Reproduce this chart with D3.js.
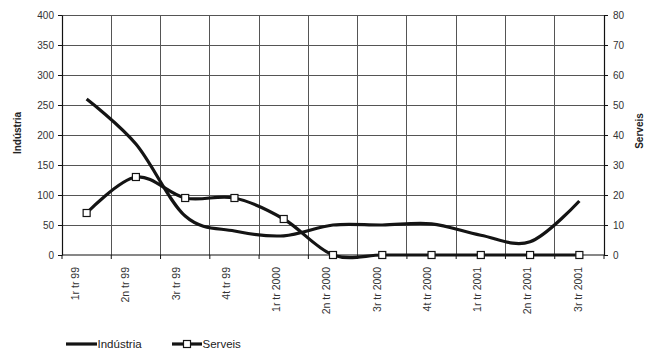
<!DOCTYPE html>
<html><head><meta charset="utf-8">
<script src="https://cdn.jsdelivr.net/npm/d3@7"></script>
<style>
html,body{margin:0;padding:0;background:#fff;}
svg{display:block;font-family:"Liberation Sans",Arial,sans-serif;}
</style></head>
<body><svg id="c" width="649" height="351"></svg>
<script>
const categories = ["1r tr 99","2n tr 99","3r tr 99","4t tr 99","1r tr 2000","2n tr 2000","3r tr 2000","4t tr 2000","1r tr 2001","2n tr 2001","3r tr 2001"];
const industria = [260, 185, 65, 40, 32, 50, 50, 52, 33, 22, 90];
const serveis = [14, 26, 19, 19, 12, 0, 0, 0, 0, 0, 0];
const leftTicks = [0,50,100,150,200,250,300,350,400];
const rightTicks = [0,10,20,30,40,50,60,70,80];

const L=62, R=604, T=15, B=255;
const svg = d3.select("#c");
const x = d3.scaleBand().domain(categories).range([L,R]).padding(0);
const xLab = d3.scalePoint().domain(categories).range([75.5,578]);
const yL = d3.scaleLinear().domain([0,400]).range([B,T]);
const yR = d3.scaleLinear().domain([0,80]).range([B,T]);
const grid = "#555", ink = "#141414", txt = "#333";

// horizontal gridlines
svg.append("g").selectAll("line").data(leftTicks.filter(d=>d>0)).join("line")
  .attr("x1",L).attr("x2",R).attr("y1",d=>yL(d)).attr("y2",d=>yL(d))
  .attr("stroke",grid).attr("stroke-width",1).attr("shape-rendering","crispEdges");
// vertical gridlines at category boundaries
svg.append("g").selectAll("line").data(categories.slice(1)).join("line")
  .attr("x1",d=>x(d)).attr("x2",d=>x(d)).attr("y1",T).attr("y2",B)
  .attr("stroke",grid).attr("stroke-width",1).attr("shape-rendering","crispEdges");

// left axis
const gl = svg.append("g").attr("transform",`translate(${L},0)`)
  .call(d3.axisLeft(yL).tickValues(leftTicks).tickSize(4).tickPadding(4).tickSizeOuter(0));
// right axis
const gr = svg.append("g").attr("transform",`translate(${R},0)`)
  .call(d3.axisRight(yR).tickValues(rightTicks).tickSize(4).tickPadding(5).tickSizeOuter(0));
[gl,gr].forEach(g=>{
  g.select(".domain").attr("stroke","#111").attr("stroke-width",1.2);
  g.selectAll(".tick line").attr("stroke","#111");
  g.selectAll(".tick text").attr("font-size","10px").attr("fill",txt).attr("font-family","Liberation Sans, Arial, sans-serif");
});

// bottom axis line + ticks at boundaries
svg.append("line").attr("x1",L).attr("x2",R).attr("y1",B).attr("y2",B)
  .attr("stroke","#111").attr("stroke-width",1.2);
const bounds = categories.map(c=>x(c)).concat([x.range()[1]]);
svg.append("g").selectAll("line").data(bounds).join("line")
  .attr("x1",d=>d).attr("x2",d=>d).attr("y1",B).attr("y2",B+4)
  .attr("stroke","#111").attr("stroke-width",1);
// x labels
svg.append("g").selectAll("text").data(categories).join("text")
  .attr("transform",d=>`translate(${xLab(d)},267) rotate(-90)`)
  .attr("text-anchor","end").attr("dy","0.35em")
  .attr("font-size","10.5px").attr("fill",txt).text(d=>d);

// axis titles
svg.append("text").attr("transform","translate(17,133) rotate(-90)")
  .attr("text-anchor","middle").attr("dy","0.35em").attr("font-size","10px")
  .attr("font-weight","bold").attr("fill","#222").text("Indústria");
svg.append("text").attr("transform","translate(639,131) rotate(-90)")
  .attr("text-anchor","middle").attr("dy","0.35em").attr("font-size","10px")
  .attr("font-weight","bold").attr("fill","#222").text("Serveis");

const cx = d => x(d)+x.bandwidth()/2;
const lineI = d3.line().x((d,i)=>cx(categories[i])).y(d=>yL(d)).curve(d3.curveCatmullRom.alpha(0));
const lineS = d3.line().x((d,i)=>cx(categories[i])).y(d=>yR(d)).curve(d3.curveCatmullRom.alpha(0));

svg.append("path").attr("d",lineS(serveis)).attr("fill","none").attr("stroke",ink).attr("stroke-width",3.2);
svg.append("path").attr("d",lineI(industria)).attr("fill","none").attr("stroke",ink).attr("stroke-width",3.2);
svg.append("g").selectAll("rect").data(serveis).join("rect")
  .attr("x",(d,i)=>cx(categories[i])-3.5).attr("y",d=>yR(d)-3.5)
  .attr("width",7).attr("height",7).attr("fill","#fff").attr("stroke",ink).attr("stroke-width",1.2);

// legend
const ly = 344;
const lg = svg.append("g");
lg.append("line").attr("x1",66).attr("x2",97).attr("y1",ly).attr("y2",ly).attr("stroke",ink).attr("stroke-width",3.2);
lg.append("text").attr("x",97.5).attr("y",ly).attr("dy","0.35em").attr("font-size","11.5px").attr("fill","#222").text("Indústria");
lg.append("line").attr("x1",172).attr("x2",202).attr("y1",ly).attr("y2",ly).attr("stroke",ink).attr("stroke-width",3.2);
lg.append("rect").attr("x",183.5).attr("y",ly-3.5).attr("width",7).attr("height",7).attr("fill","#fff").attr("stroke",ink).attr("stroke-width",1.2);
lg.append("text").attr("x",202.5).attr("y",ly).attr("dy","0.35em").attr("font-size","11.5px").attr("fill","#222").text("Serveis");
</script></body></html>
